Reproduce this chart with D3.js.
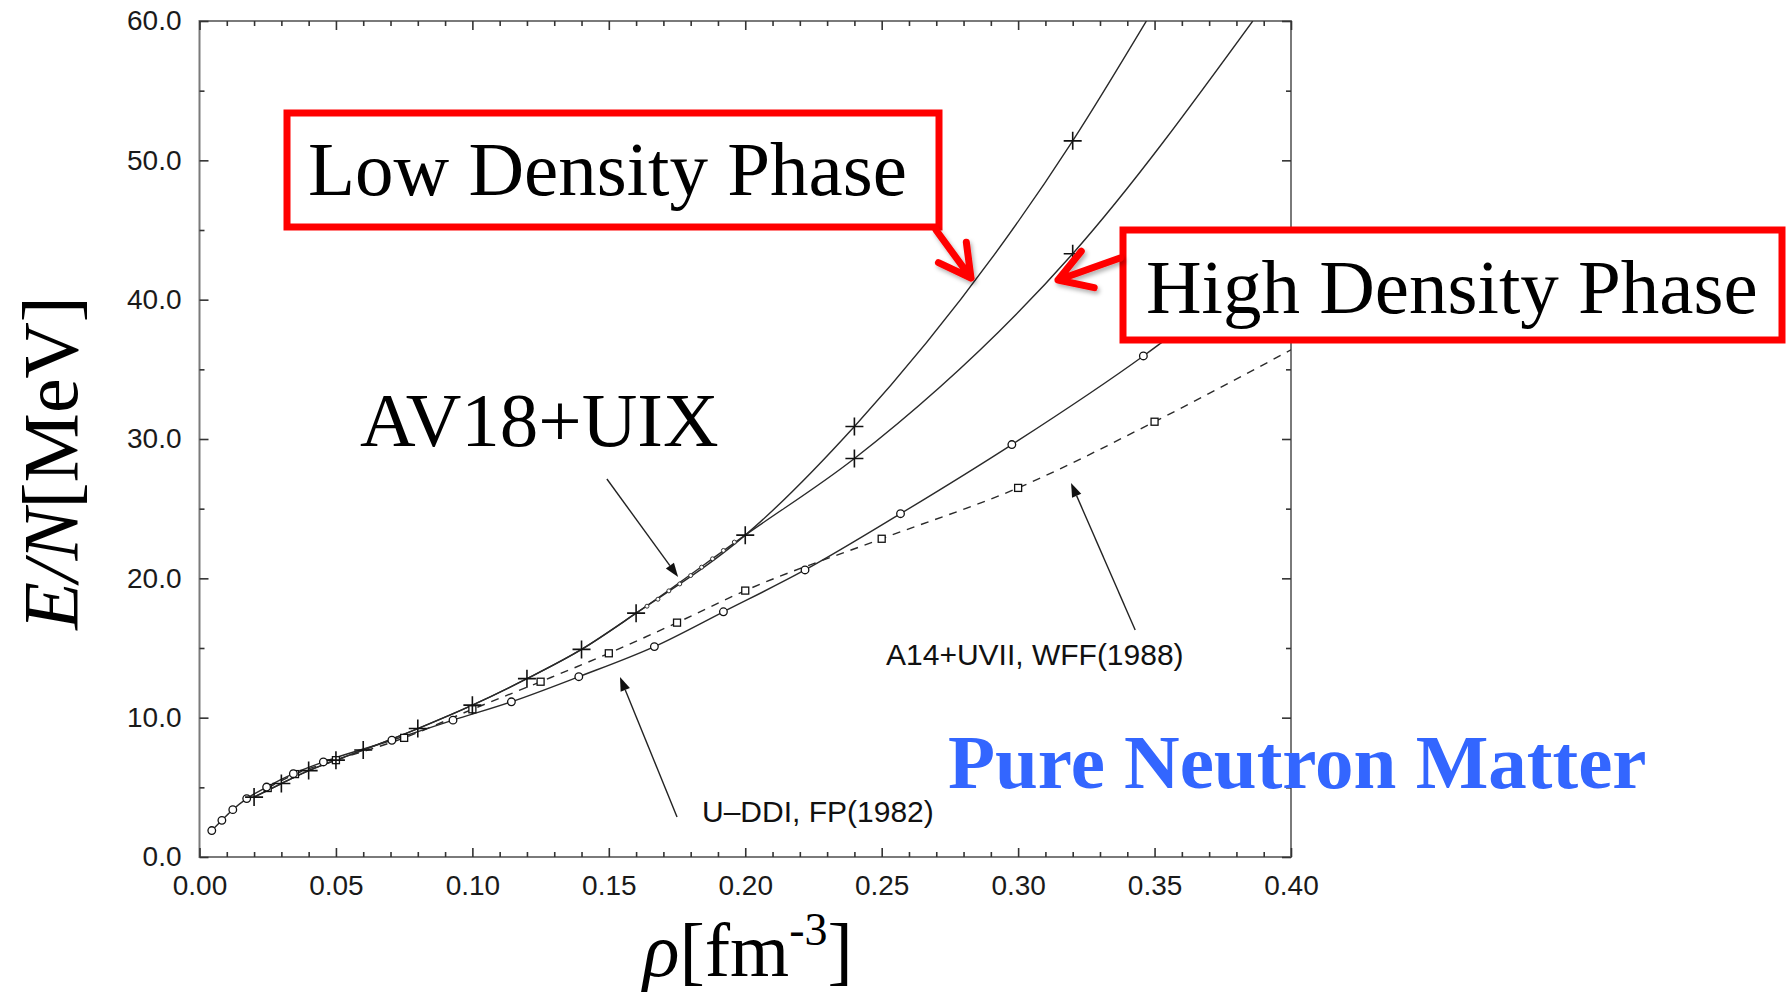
<!DOCTYPE html>
<html>
<head>
<meta charset="utf-8">
<script src="https://cdn.jsdelivr.net/npm/d3@7"></script>
<style>
body{margin:0;background:#fff;}
svg{display:block;}
</style>
</head>
<body>
<svg id="chart"></svg>
<script>
// AV18+UIX, common part (+ markers)
var rhoAV=[0.02,0.03,0.04,0.05,0.06,0.08,0.10,0.12,0.14,0.16,0.20];
var eAV=[4.3,5.27,6.2,6.95,7.68,9.22,10.9,12.8,14.9,17.5,23.1];
// low density phase branch
var rhoLow=[0.24,0.32,0.347];
var eLow=[30.9,51.4,60];
var markLow=[0.24,0.32];
// high density phase branch
var rhoHigh=[0.24,0.32,0.386];
var eHigh=[28.6,43.3,60];
var markHigh=[0.24,0.32];
// small circles on AV18 curve
var rhoSmall=[0.164,0.168,0.172,0.176,0.180,0.184,0.188,0.192,0.196];
var eSmall=[18.0,18.5,19.1,19.6,20.2,20.8,21.4,22.0,22.6];
// U-DDI, FP(1982) circles
var rhoFP=[0.0045,0.0082,0.0122,0.0173,0.0246,0.0344,0.0454,0.0705,0.0929,0.1143,0.139,0.1667,0.192,0.2219,0.2569,0.2977,0.3459,0.37];
var eFP=[1.9,2.63,3.4,4.19,5.02,5.98,6.82,8.38,9.82,11.14,12.94,15.1,17.6,20.6,24.64,29.6,35.96,39.5];
var nFPmarks=17;
// A14+UVII, WFF(1988) squares
var rhoWFF=[0.025,0.035,0.05,0.075,0.10,0.125,0.15,0.175,0.20,0.25,0.30,0.35,0.40];
var eWFF=[4.95,5.95,6.95,8.55,10.6,12.58,14.62,16.82,19.12,22.84,26.49,31.24,36.4];
var nWFFmarks=12;

var xMajor=[0,0.05,0.10,0.15,0.20,0.25,0.30,0.35,0.40];
var xMinor=[0.01,0.02,0.03,0.04,0.06,0.07,0.08,0.09,0.11,0.12,0.13,0.14,0.16,0.17,0.18,0.19,0.21,0.22,0.23,0.24,0.26,0.27,0.28,0.29,0.31,0.32,0.33,0.34,0.36,0.37,0.38,0.39];
var yMajor=[0,10,20,30,40,50,60];
var yMinor=[5,15,25,35,45,55];

var width=1786, height=997;
var svg=d3.select("#chart").attr("width",width).attr("height",height);

var x=d3.scaleLinear().domain([0,0.4]).range([199.5,1291]);
var y=d3.scaleLinear().domain([0,60]).range([857,21]);

svg.append("defs").append("clipPath").attr("id","plot")
  .append("rect").attr("x",x(0)).attr("y",y(60)).attr("width",x(0.4)-x(0)).attr("height",y(0)-y(60));

var shadow=svg.select("defs").append("filter").attr("id","shadow")
  .attr("x","-30%").attr("y","-30%").attr("width","160%").attr("height","160%");
shadow.append("feDropShadow").attr("dx",2).attr("dy",3).attr("stdDeviation",2)
  .attr("flood-color","#000").attr("flood-opacity",0.3);

// frame
svg.append("rect")
  .attr("x",x(0)).attr("y",y(60))
  .attr("width",x(0.4)-x(0)).attr("height",y(0)-y(60))
  .attr("fill","none").attr("stroke","#7a7a7a").attr("stroke-width",2);

var tickFont="'Liberation Sans', Arial, Helvetica, sans-serif";

function styleAxis(g){
  g.select(".domain").remove();
  g.selectAll("line").attr("stroke","#333").attr("stroke-width",1.6);
  g.selectAll("text").attr("font-family",tickFont).attr("font-size",28).attr("fill","#1a1a1a");
}

svg.append("g").attr("transform","translate(0,"+y(0)+")")
  .call(d3.axisBottom(x).tickValues(xMajor).tickSizeInner(-9).tickSizeOuter(0).tickPadding(18).tickFormat(d3.format(".2f")))
  .call(styleAxis);
svg.append("g").attr("transform","translate(0,"+y(0)+")")
  .call(d3.axisBottom(x).tickValues(xMinor).tickSizeInner(-5).tickSizeOuter(0).tickFormat(""))
  .call(styleAxis);
svg.append("g").attr("transform","translate(0,"+y(60)+")")
  .call(d3.axisTop(x).tickValues(xMajor).tickSizeInner(-9).tickSizeOuter(0).tickFormat(""))
  .call(styleAxis);
svg.append("g").attr("transform","translate(0,"+y(60)+")")
  .call(d3.axisTop(x).tickValues(xMinor).tickSizeInner(-5).tickSizeOuter(0).tickFormat(""))
  .call(styleAxis);
svg.append("g").attr("transform","translate("+x(0)+",0)")
  .call(d3.axisLeft(y).tickValues(yMajor).tickSizeInner(-9).tickSizeOuter(0).tickPadding(18).tickFormat(d3.format(".1f")))
  .call(styleAxis);
svg.append("g").attr("transform","translate("+x(0)+",0)")
  .call(d3.axisLeft(y).tickValues(yMinor).tickSizeInner(-5).tickSizeOuter(0).tickFormat(""))
  .call(styleAxis);
svg.append("g").attr("transform","translate("+x(0.4)+",0)")
  .call(d3.axisRight(y).tickValues(yMajor).tickSizeInner(-9).tickSizeOuter(0).tickFormat(""))
  .call(styleAxis);
svg.append("g").attr("transform","translate("+x(0.4)+",0)")
  .call(d3.axisRight(y).tickValues(yMinor).tickSizeInner(-5).tickSizeOuter(0).tickFormat(""))
  .call(styleAxis);

// curves
var line=d3.line().x(function(d){return x(d[0]);}).y(function(d){return y(d[1]);}).curve(d3.curveMonotoneX);
var pairs=function(a,b){return a.map(function(v,i){return [v,b[i]];});};

var lowPts=pairs(rhoAV,eAV).concat(pairs(rhoLow,eLow));
var highPts=pairs(rhoAV,eAV).concat(pairs(rhoHigh,eHigh));
var fpPts=pairs(rhoFP,eFP);
var wffPts=pairs(rhoWFF,eWFF);

var curves=svg.append("g").attr("clip-path","url(#plot)");
curves.append("path").attr("d",line(lowPts)).attr("fill","none").attr("stroke","#2a2a2a").attr("stroke-width",1.4);
curves.append("path").attr("d",line(highPts)).attr("fill","none").attr("stroke","#2a2a2a").attr("stroke-width",1.4);
curves.append("path").attr("d",line(fpPts)).attr("fill","none").attr("stroke","#2a2a2a").attr("stroke-width",1.4);
curves.append("path").attr("d",line(wffPts)).attr("fill","none").attr("stroke","#2a2a2a").attr("stroke-width",1.4)
  .attr("stroke-dasharray","8,7");

// markers
var marks=svg.append("g");
marks.selectAll("rect.wff").data(wffPts.slice(0,nWFFmarks)).enter().append("rect").attr("class","wff")
  .attr("x",function(d){return x(d[0])-3.5;}).attr("y",function(d){return y(d[1])-3.5;})
  .attr("width",7).attr("height",7).attr("fill","#fff").attr("stroke","#111").attr("stroke-width",1.3);
marks.selectAll("circle.fp").data(fpPts.slice(0,nFPmarks)).enter().append("circle").attr("class","fp")
  .attr("cx",function(d){return x(d[0]);}).attr("cy",function(d){return y(d[1]);})
  .attr("r",3.8).attr("fill","#fff").attr("stroke","#111").attr("stroke-width",1.3);
marks.selectAll("circle.sm").data(pairs(rhoSmall,eSmall)).enter().append("circle").attr("class","sm")
  .attr("cx",function(d){return x(d[0]);}).attr("cy",function(d){return y(d[1]);})
  .attr("r",2).attr("fill","#fff").attr("stroke","#333").attr("stroke-width",1);

var plusPts=pairs(rhoAV,eAV)
  .concat(markLow.map(function(r){return [r,eLow[rhoLow.indexOf(r)]];}))
  .concat(markHigh.map(function(r){return [r,eHigh[rhoHigh.indexOf(r)]];}));
marks.selectAll("path.av").data(plusPts).enter().append("path").attr("class","av")
  .attr("d",function(d){var px=x(d[0]),py=y(d[1]);return "M"+(px-9)+","+py+"H"+(px+9)+"M"+px+","+(py-9)+"V"+(py+9);})
  .attr("stroke","#111").attr("stroke-width",1.6);

// black annotation arrows (data coordinates)
function blackArrow(r1,e1,r2,e2){
  var x1=x(r1),y1=y(e1),x2=x(r2),y2=y(e2);
  var a=Math.atan2(y2-y1,x2-x1), L=14, w=5;
  var bx=x2-L*Math.cos(a), by=y2-L*Math.sin(a);
  svg.append("line").attr("x1",x1).attr("y1",y1).attr("x2",bx).attr("y2",by)
    .attr("stroke","#222").attr("stroke-width",1.4);
  svg.append("path").attr("d","M"+x2+","+y2+"L"+(bx+w*Math.sin(a))+","+(by-w*Math.cos(a))+"L"+(bx-w*Math.sin(a))+","+(by+w*Math.cos(a))+"Z")
    .attr("fill","#111");
}
blackArrow(0.1493,27.13,0.1754,20.1);
blackArrow(0.175,2.87,0.1541,12.92);
blackArrow(0.3429,16.29,0.3194,26.84);

var serif="'Liberation Serif', 'Times New Roman', Times, serif";

svg.append("text").attr("x",702).attr("y",822).attr("font-family",tickFont).attr("font-size",30).attr("fill","#111")
  .text("U–DDI, FP(1982)");
svg.append("text").attr("x",886).attr("y",665).attr("font-family",tickFont).attr("font-size",30).attr("fill","#111")
  .text("A14+UVII, WFF(1988)");

// red boxes
svg.append("rect").attr("x",287).attr("y",113).attr("width",652).attr("height",114)
  .attr("fill","#fff").attr("stroke","#ff0000").attr("stroke-width",7);
svg.append("rect").attr("x",1123).attr("y",230).attr("width",659).attr("height",110)
  .attr("fill","#fff").attr("stroke","#ff0000").attr("stroke-width",7);

function redArrow(x1,y1,x2,y2,half,L){
  var a=Math.atan2(y1-y2,x1-x2);
  var p="M"+x1+","+y1+"L"+x2+","+y2+
    "M"+(x2+L*Math.cos(a+half))+","+(y2+L*Math.sin(a+half))+"L"+x2+","+y2+"L"+(x2+L*Math.cos(a-half))+","+(y2+L*Math.sin(a-half));
  svg.append("path").attr("d",p).attr("fill","none").attr("stroke","#ff0000").attr("stroke-width",7)
    .attr("stroke-linecap","round").attr("stroke-linejoin","round").attr("filter","url(#shadow)");
}
redArrow(936,230,971,278,0.5,36);
redArrow(1120,258,1058,280,0.55,37);

svg.append("text").attr("x",308).attr("y",195).attr("font-family",serif).attr("font-size",77).attr("fill","#000")
  .text("Low Density Phase");
svg.append("text").attr("x",1146).attr("y",313).attr("font-family",serif).attr("font-size",77).attr("fill","#000")
  .text("High Density Phase");
svg.append("text").attr("x",360).attr("y",446).attr("font-family",serif).attr("font-size",77).attr("fill","#000")
  .text("AV18+UIX");
svg.append("text").attr("x",948).attr("y",788).attr("font-family",serif).attr("font-size",77).attr("font-weight","bold")
  .attr("fill","#3366ff").text("Pure Neutron Matter");

// axis titles
var yt=svg.append("text").attr("transform","translate(77,463) rotate(-90)").attr("text-anchor","middle")
  .attr("font-family",serif).attr("font-size",78).attr("fill","#000");
yt.append("tspan").attr("font-style","italic").text("E/N");
yt.append("tspan").text("[MeV]");

var xt=svg.append("text").attr("x",643).attr("y",976)
  .attr("font-family",serif).attr("font-size",76).attr("fill","#000");
xt.append("tspan").attr("font-style","italic").text("ρ");
xt.append("tspan").text("[fm");
xt.append("tspan").attr("font-size",46).attr("dy",-31).text("-3");
xt.append("tspan").attr("dy",31).text("]");
</script>
</body>
</html>
